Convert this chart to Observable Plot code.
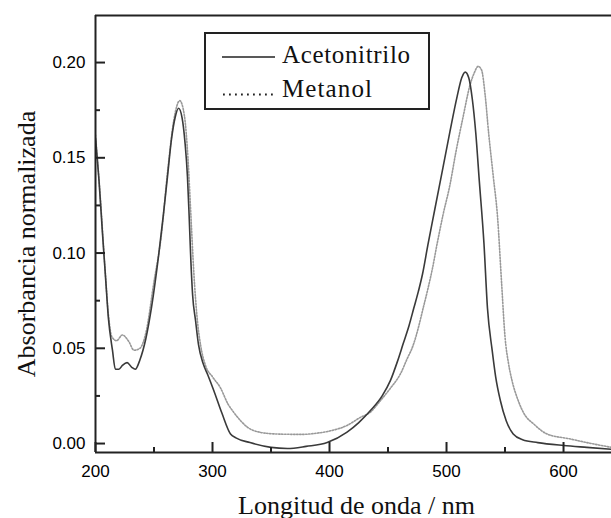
<!DOCTYPE html>
<html>
<head>
<meta charset="utf-8">
<script src="https://cdn.jsdelivr.net/npm/d3@7"></script>
<script src="https://cdn.jsdelivr.net/npm/@observablehq/plot@0.6"></script>
<style>
  body { margin: 0; background: #fff; }
  #wrap { position: relative; width: 611px; height: 518px; overflow: hidden; }
  #legend { position: absolute; left: 204px; top: 32px; }
</style>
</head>
<body>
<div id="wrap"></div>
<script>
// ---- Data ----
const seriesNames = ["Acetonitrilo", "Metanol"];

const acetoWl = [200, 203, 206, 208.5, 211, 214.5, 217, 220, 223, 227, 231, 234, 238, 243, 248, 254, 258, 261.5, 265, 268, 271, 274, 276.5, 278.6, 280, 281.5, 283, 285.5, 288, 292, 296, 301, 308, 315.4, 320, 332, 350, 364, 380, 398, 415, 425, 435, 445, 452, 458, 463, 468, 472, 476, 479.5, 484, 490, 497, 503, 509, 513, 516, 519, 522, 525, 528, 532, 535, 539, 542, 546, 551, 557, 565, 578, 600, 620, 641];
const acetoAbs = [0.16, 0.138, 0.11, 0.088, 0.066, 0.049, 0.039, 0.039, 0.041, 0.0425, 0.040, 0.039, 0.044, 0.055, 0.072, 0.099, 0.12, 0.14, 0.16, 0.171, 0.176, 0.171, 0.158, 0.14, 0.12, 0.096, 0.078, 0.0646, 0.052, 0.042, 0.036, 0.028, 0.016, 0.005, 0.003, 0.0005, -0.002, -0.0026, -0.0015, 0.0005, 0.006, 0.011, 0.0173, 0.025, 0.033, 0.043, 0.0525, 0.062, 0.071, 0.080, 0.089, 0.104, 0.123, 0.145, 0.164, 0.182, 0.192, 0.195, 0.192, 0.181, 0.163, 0.138, 0.105, 0.071, 0.049, 0.035, 0.0226, 0.012, 0.005, 0.002, 0.0005, -0.001, -0.002, -0.003];

const metanolWl = [200, 204, 208, 211, 214, 218, 223, 228, 233, 238, 243, 250, 256, 262, 267, 272, 276, 279, 281.5, 284, 287, 290, 294, 300, 307, 313, 318, 324, 330, 340, 355, 375, 390, 403, 415, 426, 435, 443.6, 452, 460.7, 466, 472, 476, 480, 484, 488, 492, 497, 503, 508, 514, 520, 524, 527, 530, 533, 536, 540, 543.6, 547, 550, 553, 556, 561, 566, 575, 586, 605, 620, 641];
const metanolAbs = [0.162, 0.13, 0.093, 0.068, 0.056, 0.054, 0.057, 0.054, 0.049, 0.05, 0.058, 0.085, 0.108, 0.145, 0.17, 0.18, 0.172, 0.15, 0.12, 0.09, 0.065, 0.051, 0.041, 0.035, 0.029, 0.021, 0.0165, 0.012, 0.0085, 0.006, 0.005, 0.0048, 0.0055, 0.007, 0.0095, 0.0136, 0.0165, 0.0226, 0.029, 0.0367, 0.044, 0.0525, 0.061, 0.071, 0.081, 0.092, 0.105, 0.12, 0.136, 0.153, 0.171, 0.188, 0.195, 0.198, 0.196, 0.183, 0.163, 0.14, 0.119, 0.085, 0.056, 0.042, 0.033, 0.023, 0.016, 0.01, 0.005, 0.0025, 0.0005, -0.002];

const xDomain = [200, 641];
const yDomain = [-0.0047, 0.2247];
const xMajor = [200, 300, 400, 500, 600];
const xMinor = [250, 350, 450, 550];
const yMajor = [0, 0.05, 0.10, 0.15, 0.20];
const yMinor = [0.025, 0.075, 0.125, 0.175];
const xTitle = "Longitud de onda / nm";
const yTitle = "Absorbancia normalizada";

// ---- Build tables ----
const aceto = acetoWl.map((w, i) => ({wl: w, abs: acetoAbs[i]}));
const metanol = metanolWl.map((w, i) => ({wl: w, abs: metanolAbs[i]}));

const W = 611, H = 518, mL = 95, mR = 0, mT = 15, mB = 66;
const frameW = W - mL - mR, frameH = H - mT - mB;
const majorLen = 10, minorLen = 5;

const serif = "'Liberation Serif', 'Times New Roman', serif";
const sans = "'Liberation Sans', Arial, sans-serif";
const axisColor = "#222";

const chart = Plot.plot({
  width: W,
  height: H,
  marginLeft: mL,
  marginRight: mR,
  marginTop: mT,
  marginBottom: mB,
  style: {fontFamily: sans, fontSize: "17px", color: "#000", background: "#fff"},
  x: {domain: xDomain, axis: null},
  y: {domain: yDomain, axis: null},
  marks: [
    // curves
    Plot.line(metanol, {x: "wl", y: "abs", stroke: "#999", strokeWidth: 1.6, strokeDasharray: "1.4,1.6", curve: "monotone-x", clip: true}),
    Plot.line(aceto, {x: "wl", y: "abs", stroke: "#3a3a3a", strokeWidth: 1.6, curve: "monotone-x", clip: true}),
    // inward ticks
    Plot.axisX({ticks: xMajor, tickSize: -majorLen, text: null, label: null, stroke: axisColor, strokeWidth: 2}),
    Plot.axisX({ticks: xMinor, tickSize: -minorLen, text: null, label: null, stroke: axisColor, strokeWidth: 2}),
    Plot.axisY({ticks: yMajor, tickSize: -majorLen, text: null, label: null, stroke: axisColor, strokeWidth: 2}),
    Plot.axisY({ticks: yMinor, tickSize: -minorLen, text: null, label: null, stroke: axisColor, strokeWidth: 2}),
    // frame (top, left, bottom)
    Plot.ruleY([yDomain[1]], {stroke: axisColor, strokeWidth: 2}),
    Plot.ruleY([yDomain[0]], {stroke: axisColor, strokeWidth: 2}),
    Plot.ruleX([xDomain[0]], {stroke: axisColor, strokeWidth: 2}),
    // tick labels
    Plot.axisX({ticks: xMajor, tickSize: 0, tickPadding: 12, tickFormat: d3.format("d"), label: null, fill: "#000", fontSize: 17}),
    Plot.axisY({ticks: yMajor, tickSize: 0, tickPadding: 10, tickFormat: d3.format(".2f"), label: null, fill: "#000", fontSize: 17}),
    // axis titles
    Plot.text([xTitle], {frameAnchor: "bottom", text: d => d, dx: 3, dy: 61, lineAnchor: "bottom", textAnchor: "middle", fontFamily: serif, fontSize: 26, fill: "#111"}),
    Plot.text([yTitle], {frameAnchor: "left", text: d => d, rotate: -90, dx: -61, dy: 10, lineAnchor: "bottom", textAnchor: "middle", fontFamily: serif, fontSize: 26, fill: "#111"})
  ]
});

const wrap = document.getElementById("wrap");
wrap.appendChild(chart);

// ---- Legend ----
const legendNS = "http://www.w3.org/2000/svg";
const lg = document.createElementNS(legendNS, "svg");
lg.setAttribute("id", "legend");
lg.setAttribute("width", "227");
lg.setAttribute("height", "79");
const ff = serif.replace(/'/g, "&quot;");
lg.innerHTML = `
  <rect x="1" y="1" width="224" height="76" fill="#fff" stroke="#222" stroke-width="2"/>
  <line x1="18" x2="71" y1="25" y2="25" stroke="#222" stroke-width="1.4"/>
  <text x="78" y="31" font-family="${ff}" font-size="25" fill="#111" textLength="128">${seriesNames[0]}</text>
  <line x1="19" x2="70" y1="62.5" y2="62.5" stroke="#222" stroke-width="2" stroke-dasharray="1.8,4.2"/>
  <text x="78" y="65" font-family="${ff}" font-size="25" fill="#111" textLength="90">${seriesNames[1]}</text>
`;
wrap.appendChild(lg);
</script>
</body>
</html>
